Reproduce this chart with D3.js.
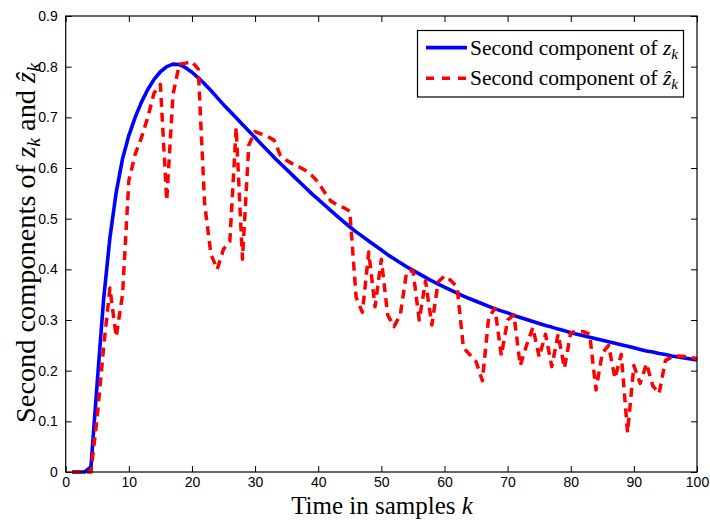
<!DOCTYPE html>
<html>
<head>
<meta charset="utf-8">
<script src="https://cdn.jsdelivr.net/npm/d3@7"></script>
<style>
  html, body { margin: 0; padding: 0; background: #fff; }
  svg { display: block; }
</style>
</head>
<body>
<svg id="chart" width="710" height="520"></svg>
<script>
// ---------------- data ----------------
const samples = [1,2,3,4,5,6,7,8,9,10,11,12,13,14,15,16,17,18,19,20,
  21,22,23,24,25,26,27,28,29,30,31,32,33,34,35,36,37,38,39,40,
  41,42,43,44,45,46,47,48,49,50,51,52,53,54,55,56,57,58,59,60,
  61,62,63,64,65,66,67,68,69,70,71,72,73,74,75,76,77,78,79,80,
  81,82,83,84,85,86,87,88,89,90,91,92,93,94,95,96,97,98,99,100];

const zTrue = [0,0,0,0.01,0.178,0.34,0.462,0.552,0.618,0.664,
  0.70,0.73,0.755,0.775,0.79,0.80,0.805,0.804,0.798,0.789,
  0.778,0.766,0.753,0.739,0.725,0.712,0.699,0.686,0.673,0.660,
  0.647,0.634,0.621,0.609,0.597,0.585,0.573,0.561,0.549,0.538,
  0.527,0.516,0.505,0.494,0.484,0.474,0.465,0.456,0.447,0.438,
  0.429,0.421,0.413,0.405,0.398,0.391,0.384,0.377,0.371,0.365,
  0.359,0.353,0.347,0.342,0.337,0.332,0.327,0.322,0.318,0.314,
  0.309,0.305,0.301,0.297,0.293,0.289,0.286,0.282,0.279,0.275,
  0.272,0.269,0.266,0.263,0.26,0.257,0.254,0.251,0.248,0.245,
  0.242,0.239,0.237,0.234,0.232,0.229,0.227,0.225,0.223,0.221];

const zEst = [0,0,0,0,0.11,0.245,0.363,0.267,0.35,0.575,
  0.627,0.66,0.70,0.748,0.765,0.536,0.745,0.805,0.807,0.81,
  0.795,0.53,0.43,0.40,0.44,0.455,0.68,0.42,0.645,0.672,
  0.667,0.662,0.655,0.625,0.615,0.608,0.602,0.595,0.585,0.572,
  0.552,0.535,0.527,0.522,0.515,0.345,0.315,0.434,0.326,0.42,
  0.31,0.287,0.31,0.395,0.398,0.30,0.377,0.29,0.375,0.387,
  0.378,0.365,0.245,0.232,0.218,0.18,0.305,0.323,0.23,0.30,
  0.31,0.21,0.25,0.285,0.227,0.272,0.208,0.272,0.205,0.275,
  0.278,0.277,0.272,0.162,0.235,0.25,0.185,0.232,0.078,0.21,
  0.175,0.214,0.17,0.155,0.22,0.227,0.229,0.228,0.226,0.224];

const xTicks = [0,10,20,30,40,50,60,70,80,90,100];
const yTicks = [0,0.1,0.2,0.3,0.4,0.5,0.6,0.7,0.8,0.9];
const yTickLabels = ["0","0.1","0.2","0.3","0.4","0.5","0.6","0.7","0.8","0.9"];

const legendLabels = ["Second component of ", "Second component of "];
const legendSymbols = ["z", "\u1E91"];

// ---------------- layout ----------------
const svg = d3.select("#chart");
const L = 65.7, R = 697, T = 16, B = 472;
const x = d3.scaleLinear().domain([0, 100]).range([L, R]);
const y = d3.scaleLinear().domain([0, 0.9]).range([B, T]);

const tickFont = "Arial, 'Liberation Sans', Helvetica, sans-serif";
const serif = "'Liberation Serif', 'Times New Roman', serif";

svg.append("rect").attr("x", 0).attr("y", 0).attr("width", 710).attr("height", 520).attr("fill", "#fff");

function styleAxis(g) {
  g.select(".domain").remove();
  g.selectAll(".tick line").attr("stroke", "#000").attr("stroke-width", 1);
  g.selectAll(".tick text").attr("font-family", tickFont).attr("font-size", 14).attr("fill", "#000");
}
const gB = svg.append("g").attr("transform", `translate(0,${B})`)
  .call(d3.axisBottom(x).tickValues(xTicks).tickFormat(d3.format("d")).tickSize(-6).tickPadding(5));
styleAxis(gB);
const gT = svg.append("g").attr("transform", `translate(0,${T})`)
  .call(d3.axisTop(x).tickValues(xTicks).tickFormat("").tickSize(-6));
styleAxis(gT);
const gL = svg.append("g").attr("transform", `translate(${L},0)`)
  .call(d3.axisLeft(y).tickValues(yTicks).tickFormat((d, i) => yTickLabels[i]).tickSize(-6).tickPadding(8));
styleAxis(gL);
const gR = svg.append("g").attr("transform", `translate(${R},0)`)
  .call(d3.axisRight(y).tickValues(yTicks).tickFormat("").tickSize(-6));
styleAxis(gR);

const pts1 = samples.map((k, i) => [k, zTrue[i]]);
const pts2 = samples.map((k, i) => [k, zEst[i]]);
const line = d3.line().x(d => x(d[0])).y(d => y(d[1]));

svg.append("path").datum(pts1).attr("d", line)
  .attr("fill", "none").attr("stroke", "#0000ff").attr("stroke-width", 3.6)
  .attr("stroke-linejoin", "round");
svg.append("path").datum(pts2).attr("d", line)
  .attr("fill", "none").attr("stroke", "#ff0000").attr("stroke-width", 3.5)
  .attr("stroke-dasharray", "9,6").attr("stroke-linejoin", "round");

svg.append("rect").attr("x", L).attr("y", T).attr("width", R - L).attr("height", B - T)
  .attr("fill", "none").attr("stroke", "#000").attr("stroke-width", 1.2);

function fitWidth(sel, target) {
  const w = sel.node().getComputedTextLength();
  const fs = parseFloat(sel.attr("font-size"));
  sel.attr("font-size", fs * target / w);
}

// x label
const xl = svg.append("text").attr("x", 382).attr("y", 514)
  .attr("text-anchor", "middle").attr("font-family", serif).attr("font-size", 25).attr("fill", "#000");
xl.append("tspan").text("Time in samples ");
xl.append("tspan").attr("font-style", "italic").text("k");

// y label
const yl = svg.append("text").attr("transform", "translate(35,243) rotate(-90)")
  .attr("text-anchor", "middle").attr("font-family", serif).attr("font-size", 26).attr("fill", "#000");
yl.append("tspan").text("Second components of ");
yl.append("tspan").attr("font-style", "italic").text("z");
yl.append("tspan").attr("font-style", "italic").attr("font-size", "70%").attr("dy", 5).text("k");
yl.append("tspan").attr("dy", -5).text(" and ");
yl.append("tspan").attr("font-style", "italic").text("\u1E91");
yl.append("tspan").attr("font-style", "italic").attr("font-size", "70%").attr("dy", 5).text("k");
fitWidth(yl, 360);

// legend
const lg = svg.append("g");
lg.append("rect").attr("x", 417.5).attr("y", 30.5).attr("width", 266).attr("height", 66.5)
  .attr("fill", "#fff").attr("stroke", "#000").attr("stroke-width", 1.2);
const rowsY = [47.7, 78.3];
const colors = ["#0000ff", "#ff0000"];
rowsY.forEach((ry, i) => {
  lg.append("line").attr("x1", 426).attr("x2", 467).attr("y1", ry).attr("y2", ry)
    .attr("stroke", colors[i]).attr("stroke-width", i === 0 ? 3.8 : 3.4)
    .attr("stroke-dasharray", i === 0 ? null : "8,8");
  const t = lg.append("text").attr("x", 470).attr("y", ry + 7)
    .attr("font-family", serif).attr("font-size", 21).attr("fill", "#000");
  t.append("tspan").text(legendLabels[i]);
  t.append("tspan").attr("font-style", "italic").text(legendSymbols[i]);
  t.append("tspan").attr("font-style", "italic").attr("font-size", "70%").attr("dy", 4).text("k");
  fitWidth(t, 208);
});
</script>
</body>
</html>
